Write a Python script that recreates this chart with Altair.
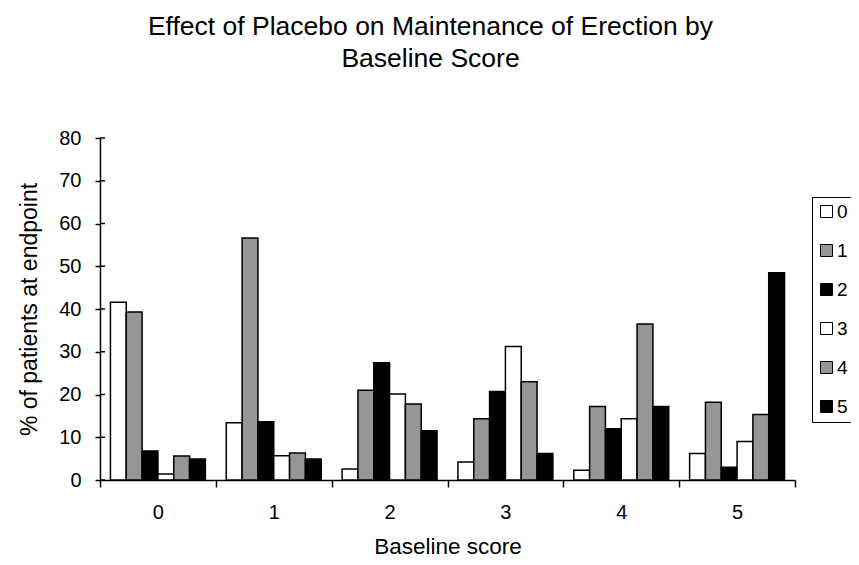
import altair as alt
import pandas as pd

# Baseline score categories (x) and endpoint score series (colour)
baseline = ["0", "1", "2", "3", "4", "5"]
endpoint = ["0", "1", "2", "3", "4", "5"]

# % of patients at endpoint, one list per endpoint score, across baseline 0..5
end0 = [41.6, 13.4, 2.6, 4.2, 2.3, 6.2]
end1 = [39.3, 56.6, 21.0, 14.3, 17.2, 18.2]
end2 = [6.8, 13.6, 27.4, 20.7, 12.0, 3.0]
end3 = [1.4, 5.7, 20.1, 31.2, 14.3, 9.0]
end4 = [5.6, 6.3, 17.8, 23.0, 36.5, 15.3]
end5 = [4.9, 4.9, 11.5, 6.2, 17.2, 48.5]

y_ticks = [0, 10, 20, 30, 40, 50, 60, 70, 80]
colors = ["#ffffff", "#969696", "#000000", "#ffffff", "#969696", "#000000"]

rows = []
for e, vals in zip(endpoint, [end0, end1, end2, end3, end4, end5]):
    for b, v in zip(baseline, vals):
        rows.append({"baseline": b, "endpoint": e, "pct": v})
df = pd.DataFrame(rows)
ticks_df = pd.DataFrame({"pct": y_ticks})

FONT = "Liberation Sans"
W, H = 695, 342
yscale = alt.Scale(domain=[0, 80], nice=False)

bars = alt.Chart(df).mark_bar(stroke="black", strokeWidth=1.5).encode(
    x=alt.X(
        "baseline:N", sort=baseline, title="Baseline score",
        scale=alt.Scale(paddingInner=0, paddingOuter=0),
        axis=alt.Axis(
            labelAngle=0, tickBand="extent", tickSize=7, labelPadding=15,
            titlePadding=13, labelFontSize=20, titleFontSize=22.5,
            labelFont=FONT, titleFont=FONT, titleFontWeight="normal",
            domainColor="black", tickColor="black", labelColor="black",
            titleColor="black", domainWidth=1.5, tickWidth=1.5,
        ),
    ),
    xOffset=alt.XOffset("endpoint:N", sort=endpoint,
                        scale=alt.Scale(paddingInner=0, paddingOuter=0.66)),
    y=alt.Y(
        "pct:Q", title="% of patients at endpoint", scale=yscale,
        axis=alt.Axis(
            orient="left", values=y_ticks, grid=False, tickSize=5,
            labelPadding=14, titlePadding=17, labelFontSize=20,
            titleFontSize=23, labelFont=FONT, titleFont=FONT,
            titleFontWeight="normal", domainColor="black", tickColor="black",
            labelColor="black", titleColor="black", domainWidth=1.5,
            tickWidth=1.5,
        ),
    ),
    color=alt.Color(
        "endpoint:N", sort=endpoint,
        scale=alt.Scale(domain=endpoint, range=colors),
        legend=alt.Legend(
            orient="none", legendX=712, legendY=59, title=None,
            strokeColor="black", fillColor="white", padding=5,
            rowPadding=19, symbolType="square", symbolSize=144,
            symbolStrokeColor="black", symbolStrokeWidth=1,
            labelFontSize=19, labelFont=FONT, labelColor="black",
            labelOffset=1,
        ),
    ),
)

# inward half of the y-axis tick marks (ticks cross the axis line)
ticks_in = alt.Chart(ticks_df).mark_rule(color="black", strokeWidth=1.5).encode(
    y=alt.Y("pct:Q", scale=yscale, axis=None),
    x=alt.value(0),
    x2=alt.value(5),
)

chart = alt.layer(bars, ticks_in).resolve_axis(y="independent").properties(
    width=W,
    height=H,
    autosize=alt.AutoSizeParams(type="none"),
    padding={"left": 92, "top": 130, "right": 56, "bottom": 77},
    background="white",
    title=alt.TitleParams(
        text=["Effect of Placebo on Maintenance of Erection by", "Baseline Score"],
        fontSize=26.5, font=FONT, fontWeight="normal", anchor="middle",
        dx=-17, offset=56, lineHeight=32, color="black",
    ),
).configure_view(stroke=None)

chart.save("out.html", embed_options={"renderer": "svg", "actions": False})
